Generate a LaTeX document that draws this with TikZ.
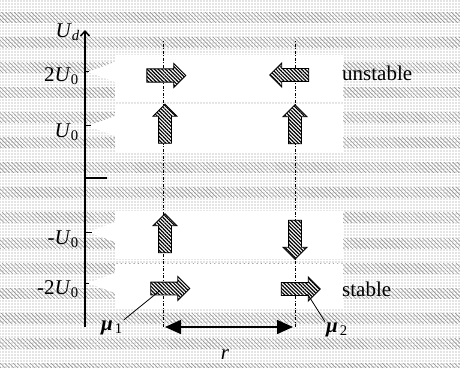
\documentclass[tikz,border=0pt]{standalone}
\usepackage{fontspec}
\setmainfont{Liberation Serif}
\usetikzlibrary{arrows.meta,patterns.meta,shapes.arrows}

\tikzset{
  fundo/.style={pattern={Dots[distance=3pt,radius=0.55pt]},pattern color=gray!90},
  listra/.style={pattern={Lines[angle=-45,distance=3pt,line width=0.6pt]},pattern color=gray!85},
  seta/.style={single arrow, draw=black, line width=0.9pt, inner sep=6pt,
    minimum height=39pt, single arrow head extend=5.5pt, single arrow tip angle=90,
    preaction={fill=white}, pattern={Lines[angle=-45,distance=2.6pt,line width=1.2pt]}},
  rotulo/.style={font=\fontsize{21}{25}\selectfont, inner sep=0pt},
  guia/.style={line width=0.6pt, dash pattern=on 3pt off 1.5pt on 1pt off 1.5pt}
}

\begin{document}
\begin{tikzpicture}[x=1pt,y=1pt]

 % dimensões principais
    \def\xeixo{85}      % eixo U_d
    \def\xa{163}        % linha do dipolo 1
    \def\xb{295}        % linha do dipolo 2
    \def\ybase{40}      % base das linhas
    \def\ytopo{327}     % topo das linhas
    \def\xesq{115}      % faixas brancas
    \def\xdir{343}

    % fundo
    \useasboundingbox (0,0) rectangle (460,367);
    \fill[white] (0,0) rectangle (460,367);
    \fill[fundo] (0,0) rectangle (460,367);
    \foreach \k in {0,...,14}
      \fill[listra] (0,{344-25*\k}) rectangle (460,{354-25*\k});

    % faixas brancas
    \fill[white] (\xesq,312) -- (\xdir,312) -- (\xdir,266) -- (\xesq,266) -- (\xesq,285) -- (88,295) -- (\xesq,305) -- cycle;
    \fill[white] (\xesq,263) -- (\xdir,263) -- (\xdir,214) -- (\xesq,214) -- (\xesq,231) -- (88,241) -- (\xesq,251) -- cycle;
    \fill[white] (\xesq,156) -- (\xdir,156) -- (\xdir,108) -- (\xesq,108) -- (\xesq,125) -- (88,135) -- (\xesq,145) -- cycle;
    \fill[white] (\xesq,103) -- (\xdir,103) -- (\xdir,58) -- (\xesq,58) -- (\xesq,74) -- (88,84) -- (\xesq,94) -- cycle;

    % eixo U_d
    \coordinate (eixo0) at (\xeixo,\ybase);
    \coordinate (eixo1) at (\xeixo,337);
    \draw[line width=1.5pt,-{Straight Barb[length=5pt,width=9pt]}] (eixo0) -- (eixo1);
    \node[rotulo, anchor=east] (Ud) at (80,335) {\textit{U}\textsubscript{\textit{d}}};

    % marcas
    \draw[line width=1pt] (\xeixo,295) -- +(4,0);
    \draw[line width=1pt] (\xeixo,241) -- +(6,0);
    \draw[line width=1.5pt] (\xeixo,189) -- +(22,0);
    \draw[line width=1pt] (\xeixo,135) -- +(7,0);
    \draw[line width=1pt] (\xeixo,84) -- +(4,0);
    \node[rotulo, anchor=east] (l2u) at (79,291) {2\textit{U}\textsubscript{0}};
    \node[rotulo, anchor=east] (l1u) at (79,235) {\textit{U}\textsubscript{0}};
    \node[rotulo, anchor=east] (lm1u) at (79,128) {-\textit{U}\textsubscript{0}};
    \node[rotulo, anchor=east] (lm2u) at (79,78) {-2\textit{U}\textsubscript{0}};

    % linhas dos dipolos
    \coordinate (a0) at (\xa,\ybase);
    \coordinate (a1) at (\xa,\ytopo);
    \coordinate (b0) at (\xb,\ybase);
    \coordinate (b1) at (\xb,\ytopo);
    \draw[guia] (a0) -- (a1);
    \draw[guia] (b0) -- (b1);

    % setas
    \node[seta] (ua) at (163,291.5) {};
    \node[seta, rotate=180] (ub) at (292.5,292) {};
    \node[seta, rotate=90] (pa) at (165,240) {};
    \node[seta, rotate=90] (pb) at (295,239.5) {};
    \node[seta, rotate=90] (na) at (165,130.5) {};
    \node[seta, rotate=-90] (nb) at (295,130.5) {};
    \node[seta] (sa) at (167,78.5) {};
    \node[seta] (sb) at (297.5,78) {};

    \node[rotulo, anchor=west] (inst) at (342,294) {unstable};
    \node[rotulo, anchor=west] (est) at (342,78) {stable};

    % distância r
    \draw[line width=1.5pt, {Triangle[length=16pt,width=14pt]}-{Triangle[length=16pt,width=14pt]}]
      ([xshift=2pt]a0) -- ([xshift=-2pt]b0);
    \node[rotulo] (r) at (225,12) {\textit{r}};

    % momentos
    \node[rotulo, inner sep=1pt] (mu1) at (112,39) {\textbf{\textit{μ}}\kern2pt\textsubscript{1}};
    \node[rotulo, inner sep=1pt] (mu2) at (337,37) {\textbf{\textit{μ}}\kern2pt\textsubscript{2}};
    \draw[line width=0.8pt] (mu1.north east) -- ([xshift=-7pt,yshift=-2pt]sa.center);
    \draw[line width=0.8pt] (mu2.north west) -- ([xshift=10pt,yshift=-5pt]sb.center);

\end{tikzpicture}
\end{document}
